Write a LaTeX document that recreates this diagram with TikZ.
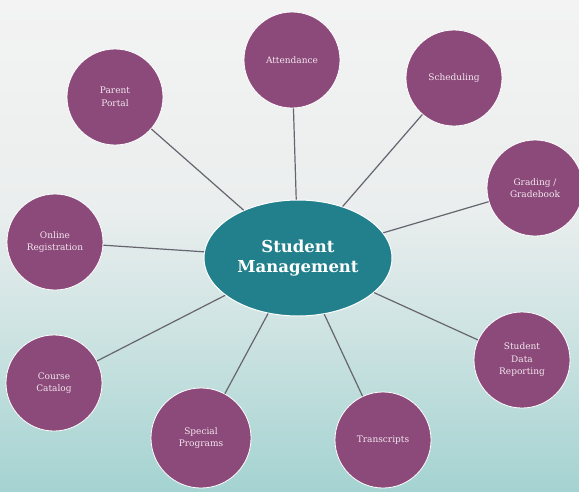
\documentclass[tikz,border=0pt]{standalone}
\usepackage{fontspec}
\setmainfont{DejaVu Serif}
\usetikzlibrary{shapes.geometric}
\definecolor{spokefill}{HTML}{8B4A7A}
\definecolor{hubfill}{HTML}{21808C}
\definecolor{linkcol}{HTML}{66656F}
\definecolor{spoketext}{HTML}{F3E6EE}
\definecolor{bgtop}{HTML}{F3F3F3}
\definecolor{bgmid}{HTML}{EBEEEE}
\definecolor{bgmidb}{HTML}{CFE4E3}
\definecolor{bgbot}{HTML}{A4D3D1}
\pgfdeclareverticalshading{bgshade}{100bp}{color(0bp)=(bgbot); color(25bp)=(bgbot); color(42bp)=(bgmidb); color(54bp)=(bgmid); color(75bp)=(bgtop); color(100bp)=(bgtop)}
\begin{document}
\begin{tikzpicture}[x=1pt,y=-1pt,
  spoke/.style={circle, fill=spokefill, draw=white, line width=0.8pt, minimum size=96pt, inner sep=0pt, text=spoketext, font=\fontsize{9}{12.5}\selectfont, align=center},
  hub/.style={ellipse, fill=hubfill, draw=white, line width=1pt, minimum width=188pt, minimum height=116pt, inner sep=0pt, text=white, font=\bfseries\fontsize{16.5}{20.5}\selectfont, align=center},
  link/.style={draw=linkcol, line width=1.2pt}]
\shade[shading=bgshade] (0,0) rectangle (579,491);
\useasboundingbox (0,0) rectangle (579,491);
\node[hub] (hub) at (298,258) {Student\\Management};
\node[spoke] (pp) at (115,97) {Parent\\Portal};
\node[spoke] (att) at (292,60) {Attendance};
\node[spoke] (sch) at (454,78) {Scheduling};
\node[spoke] (grd) at (535,188) {Grading /\\Gradebook};
\node[spoke] (onl) at (55,242) {Online\\Registration};
\node[spoke] (sdr) at (522,360) {Student\\Data\\Reporting};
\node[spoke] (cc) at (54,383) {Course\\Catalog};
\node[spoke, minimum size=100pt] (sp) at (201,438) {Special\\Programs};
\node[spoke] (tr) at (383,440) {Transcripts};
\foreach \n in {pp,att,sch,grd,onl,sdr,cc,sp,tr}
  \draw[link] (hub) -- (\n);
\end{tikzpicture}
\end{document}
